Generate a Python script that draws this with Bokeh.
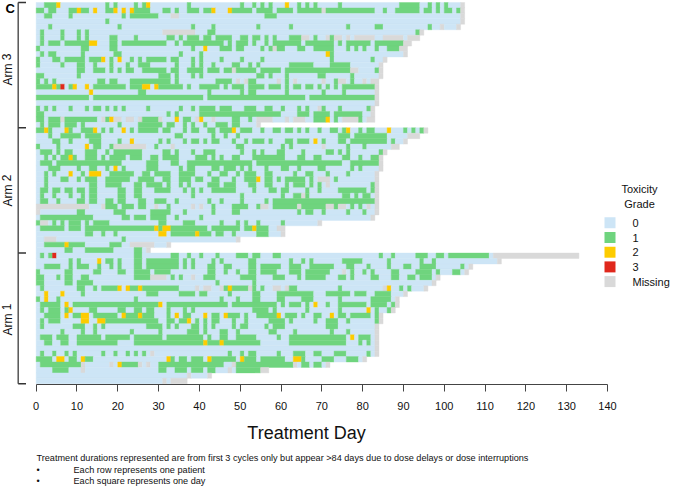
from bokeh.plotting import figure
from bokeh.models import Range1d, FixedTicker, Label, ColumnDataSource
from bokeh.embed import file_html
from bokeh.resources import INLINE

# each row: total days | grade 1 | grade 2 | grade 3 | missing  (all other days are grade 0)
arm3_rows = [
"105|2-4 17 19 24 26 37 50 53 55 57 64 66 68 74 89-93 96 98 100|5 27 61||104",
"105|0-1 3-4 8-9 11-12 17-18 24-27 31-32 34 37-39 41-42 48-52 54-57 59-62 64-69 71-82 85 88-93 95-96 98 100-101 103|10 14 19 21 23 43 47||70 104",
"105|2-3 8 21 23-29 56-58|||33-34 104",
"105|17|||104",
"104|3 20 38 43 54 62 76 83-84 96|||99 103",
"95|1 6 10 12 42-43 93|||31-38 94",
"94|1 6 10 12 18-19 24 32-33 35 37-39 41-42 44-47 50-51 53-54 56 58 62-64 68 72|||65-66 71 73-74 76 78-82 85-89 91-93",
"92|1 3-5 7-12 18-19 21-31 34 36-45 47 49-51 53 56 58-64 66-72 74 76-81 83-89|13-14||90-91",
"91|0 11-12 18-19 38 45-47 49-50 55 57 59-60 64-65 68-72 76 78 80 83 86-88|41||58 89-90",
"91|1 3-4 11 19-20 35 40 72|71||90",
"86|0 4-5 7-11 13-15 18 23 25 27-31 33-34 38 40 45 50 55 72 82|16 20||85",
"85|0 6 10-11 14 18 22 25-27 34 38 40 43 48-49 52 54 62-67 72-76|||84",
"85|10-11 14-16 18 20 22-23 26-31 33-34 37-40 42-44 46-47 49-53 55-59 61-76 83|||48 77-78 84",
"85|0-1 10 30-32 34 38 40 54-55 57 61 69-70 77|||84",
"84|0 2 4 15-16 18-19 23-32 34 44-47 52-53 61 73 77|||49 51 59 63 70 74-75 80 82-83",
"84|0-3 5 8 14-21 23-25 30-35 37 40-44 46 48-50 52-55 57-59 61 63-64 66-67 69 71 73 75-82|4 9 12 26-27 29|6|83",
"84|25-26 42 50 52-53 61 70 75|13||83",
"84|0-12 14-40 42-65 67-82|||83",
"84||||83",
"83|0 2 4 8 12 14-15 17 19 21 27 35 38 40-43 45-47 51-53 56-57 60 64 66 70 74 81|||69 82",
"83|0-1 32 34 40-59 64-66 68-71 73-79|||82",
"83|0-1 3-5 7-14 17 26-29 36-37 48-49 52 68-70 73 79|18 34 40 71||6 16 19-20 22-23 25 30 39 43 54-57 61 63-65 75-78 81-82",
"55|1 3-5 7-9 11 20 25-30 32-33 36 38 41 44-46 48-49|||54",
]
arm2_rows = [
"96|0-1 3 8 11-13 16 18 23 25-29 31-32 36 38-39 42-43 45-47 50-52 55 58-59 61-62 64 66 69 72-73 75 79 81-82 90 92 94|2 7 14 21 48 76 86||95",
"94|3 6-10 12-15 34-35 43 46 49 74-76 78-85|||91-93",
"91|4-5 8 13-15 20 30 32 36 38-39 41 43-44 48 51 53-55 57 61-62 64-66 70 74-75 77-85 87|23 68||90",
"89|0 5 14-15 18 29 49-50 60 62 76 80|12||19-26 33 70 87-88",
"86|1-3 5 7-8 12-14 17 19-25 31-32 34 38 41-43 50 53 55 59-60 65 71-72 74 76 84|||85",
"85|2 4 6-7 9 12-14 16 18-21 23-25 28-29 31-34 39-41 43 45 48-49 53-60 64-65 68-69 75-76 79 82-83|8||84",
"85|1-3 5-20 27-29 33-34 37-52 54-74 77-83|||84",
"85|3-5 10 13-14 17 21 27-29 35 37-38 43-44 46-48 50 52 56 60-61 64 69-70 77 79|19||84",
"84|2 4 11 18-23 26-27 29-32 35-38 42 45-46 49 51-53 56-57 63 66-67 71 76|8 13-15||83",
"84|2 6-7 10 12-14 17-22 25-28 31-32 35-37 39-40 43-44 48 51-53 56-57 59 61-65 67 73|54||69-71 83",
"84|2 13-14 17-20 24-25 27-30 32 35 37 42-44 46-48 52-53 56-57 61 63-65 67 69 82|||71 83",
"84|1-2 4-5 7-8 10-11 13-14 20-21 24-25 29-32 36 38 40 43-48 53 57-58 60-61 66 69 74-80 82|||83",
"84|1 4 8 11 13-14 20-21 24-25 38 50 60 63-64 66 75-76 78 80-81|||65 83",
"84|1-2 5 10-11 13-14 17-18 20-21 25-26 29-31 34 42 45 50 56 58-82|||83",
"84|17-19 21-23 25-26 32 43 48-51 54 58-63 65-70 73 77 79|||0-12 16 29 38 40 55-56 64 71-72 74-75 81 83",
"84|10-11 19-21 28-32 36 43 48-49 64 66-67 70 76 80|||0 83",
"83|1-13 21-22 24-26 28-31 34 40|||82",
"70|0 4 6 8-10 12 14-17 30-31 36-38 45 49 51 54 60|||1-2 69",
"61|1-6 8-10 12-28 30 33-41 43-49 51-52 54-56|29 31-32 53||59-60",
"61|12-13 16 19 33-38 40-42 44-45 48 54-56|30-31 39||60",
"50|21|||2-4 49",
"33|2-6 8-11 18-20|7||23-28 32",
"28|7-8 12-18 24-25|||27",
]
arm1_rows = [
"133|1 3 24-25 33-34 37 40 44 49-51 53-54 58-59 84 87 93-95 98-99 101-110||4|112-132",
"114|8 10 17-18 20 24-25 27-34 36 38 43 45 52-53 62 65 67 75-79 86 94 97|15||113",
"107|2-5 8 10-12 15 18 20 24-25 27-34 36 38 42-43 46-47 52-53 55-59 62-64 67-72 76-77 81 86 90-91 94-97 104|||106",
"106|0 7-8 14-15 20-21 24-27 29-32 42-43 46 49 52-53 55-58 62-64 66-71 77 80 82 87-88 93-96 98 102-103|||75 105",
"99|0-1 5 7-8 11-12 24-27 33 35 41-43 50-53 58-60 64 66-70 74-75 77 82-83 87-88 91-92 94-96|||28-31 38 98",
"98|0-1 7-8 10-13 44 53|||97",
"96|1 10-11 14 16-19 23-24 26-34 46 48-51 53 55 62-63 74 89 91|20 22 25 47 86||39 41-42 45 52 58-59 61 85 95",
"91|11 27-29 35-38 40-41 47 53-54 59-67 71-76 78-80 83-86|2 6||90",
"89|0 5 24 45 49 53-54 59-60 65-67 74 82-86|2||88",
"89|1-5 9-29 32-46 48-58 60 62-64 66 71 74-80 82-85 87|7 30 68||88",
"88|1 3-5 7 13-14 20-21 24-25 27-28 32 36 38 53-56 58 66 74 83 86|8 81||87",
"85|2-5 9-10 14-19 22-24 26-28 32 36-37 43-44 47-49 51 54-58 61-63 65 68-69 74-75 77-81 83|7 11-12 21 25 34 41 46 59 72||84",
"85|1 3-5 17-29 32-33 35-36 39 41 43-44 48 51 57-60 62 68 71-73 76 83|11-12 15-16 37||84",
"84|1 9-11 14 16 27-30 32 34 38-39 41 43 48 50-51 56 58-60 71-73|||83",
"84|6 11 14 23 30 37-39 41 45-46 49 57-58 63 72 76|||83",
"84|1-3 5-7 10-15 17-22 24-30 32-40 42 45-46 49-53 59 62-75 79-81|77||83",
"84|2-3 6-7 10-19 24-40 42-44 46-54 62-75 79 81|41 45||83",
"84||||83",
"84|1 4 7 9 16 19 22 24 26 47 50 52-53 59 63-65 68-69 73-75 81|||28 83",
"81|0-3 8-9 12-13 33 35-36 38-40 43-48 51-53 55-60 65 70-72 76-78|5-6 11 32 42 50 63-64||80",
"72|1-10 21-24 30-45 49-62 65-66 68-69|20||11 18 25 27 48 63 71",
"57|4-7 30-31 34-36 38-40 42-43 49-54|||11 47 55-56",
"43||||37 42",
"37||||31 33-36",
]
arm_labels = ["Arm 3", "Arm 2", "Arm 1"]
grade_labels = ["0", "1", "2", "3", "Missing"]
grade_colors = ["#cde5f6", "#6fd47e", "#fdcc00", "#e0281c", "#d9d9d9"]
x_ticks = list(range(0, 150, 10))

rows = arm3_rows + arm2_rows + arm1_rows
n_rows = len(rows)
PX_DAY, PX_ROW, X0, Y_TOP = 4.081, 5.447, 35.67, 2.0
W, H, AXIS_Y = 673, 486, 384

def X(px):
    return (px - X0) / PX_DAY
def Y(py):
    return n_rows - (py - Y_TOP) / PX_ROW

def parse(spec):
    out = []
    for tok in spec.split():
        a, _, b = tok.partition("-")
        out.extend(range(int(a), int(b or a) + 1))
    return out

left, right, top, bottom, color = [], [], [], [], []
for i, row in enumerate(rows):
    parts = row.split("|")
    cells = [0] * int(parts[0])
    for grade, spec in zip((4, 1, 2, 3), (parts[4], parts[1], parts[2], parts[3])):
        for d in parse(spec):
            if d < len(cells):
                cells[d] = grade
    start = 0
    for d in range(1, len(cells) + 1):
        if d == len(cells) or cells[d] != cells[start]:
            left.append(start); right.append(d)
            top.append(n_rows - i); bottom.append(n_rows - i - 1)
            color.append(grade_colors[cells[start]])
            start = d

p = figure(width=W, height=H, output_backend="svg", toolbar_location=None,
           x_range=Range1d(X(0), X(W)), y_range=Range1d(Y(H), Y(0)),
           min_border_left=0, min_border_right=0, min_border_top=0,
           min_border_bottom=0,
           y_axis_location=None, outline_line_color=None, background_fill_color="white")
p.grid.visible = False
p.quad(left="left", right="right", top="top", bottom="bottom", fill_color="color", line_color="color",
       line_width=0.4, source=ColumnDataSource(dict(left=left, right=right, top=top, bottom=bottom, color=color)))

ax = p.xaxis[0]
ax.fixed_location = Y(AXIS_Y)
ax.bounds = (0, 140)
ax.ticker = FixedTicker(ticks=x_ticks)
ax.minor_tick_line_color = None
ax.major_tick_in = 0
ax.major_tick_out = 7
ax.axis_line_color = "#444444"
ax.major_tick_line_color = "#444444"
ax.major_label_text_font = "Liberation Sans"
ax.major_label_text_font_size = "11px"
ax.major_label_text_color = "#111111"
ax.major_label_standoff = 10

def text(px, py, s, size, align="left", angle=0, style="normal", color="#111111", base="middle"):
    p.add_layout(Label(x=X(px), y=Y(py), text=s, text_font="Liberation Sans", text_font_size=f"{size}px",
                       text_align=align, text_baseline=base, angle=angle, text_color=color,
                       text_font_style=style))

# arm brackets
edges = [0, len(arm3_rows), len(arm3_rows) + len(arm2_rows), n_rows]
bx, btick = X(17.7), X(25.5)
p.segment(x0=[bx], y0=[n_rows], x1=[bx], y1=[0], line_color="#555555", line_width=1.5)
p.segment(x0=[bx] * 4, y0=[n_rows - e for e in edges], x1=[btick] * 4, y1=[n_rows - e for e in edges],
          line_color="#333333", line_width=1.5)
for lab, cy in zip(arm_labels, (69, 190, 319)):
    text(7, cy, lab, 12, align="center", angle=1.5708)
text(5, 8, "C", 13, style="bold", color="black")

# axis title
text(306, 432, "Treatment Day", 18, align="center")

# legend
text(639, 188, "Toxicity", 11, align="center")
text(639, 203, "Grade", 11, align="center")
for k, (lab, col) in enumerate(zip(grade_labels, grade_colors)):
    cy = 222.3 + 14.7 * k
    p.quad(left=[X(604)], right=[X(615)], top=[Y(cy - 5.5)], bottom=[Y(cy + 5.5)], color=col, line_color=None)
    text(632, cy, lab, 11)

# notes
text(36, 457.5, "Treatment durations represented are from first 3 cycles only but appear >84 days due to dose delays or dose interruptions", 9.15)
text(36, 469, "•", 9.15)
text(73, 469, "Each row represents one patient", 9.15)
text(36, 480, "•", 9.15)
text(73, 480, "Each square represents one day", 9.15)

open("out.html", "w").write(file_html(p, INLINE))
